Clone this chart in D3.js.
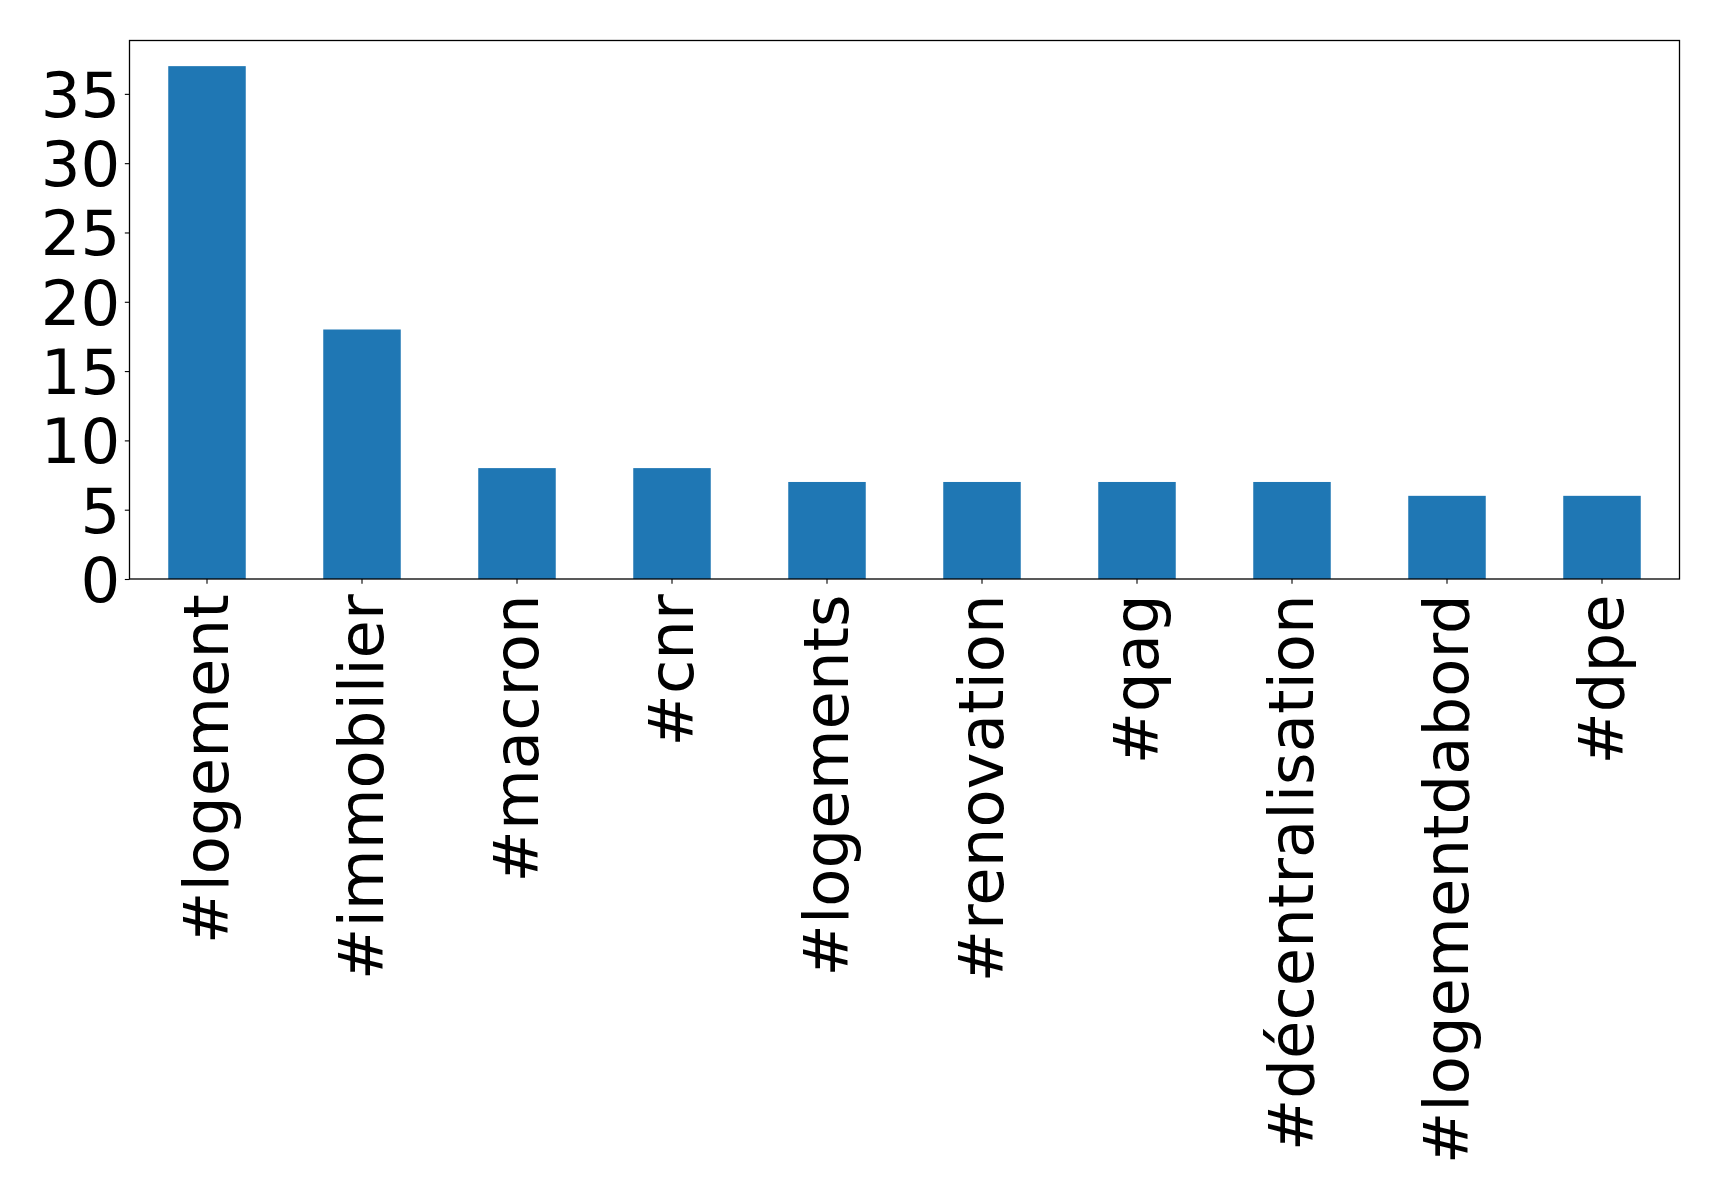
<!DOCTYPE html>
<html><head><meta charset="utf-8">
<script src="https://cdn.jsdelivr.net/npm/d3@7"></script>
<style>body{margin:0;background:#fff}svg{display:block}text{font-family:"DejaVu Sans",sans-serif}</style>
</head><body>
<script>
const categories = ["#logement","#immobilier","#macron","#cnr","#logements","#renovation","#qag","#décentralisation","#logementdabord","#dpe"];
const values = [37,18,8,8,7,7,7,7,6,6];
const yTicks = [0,5,10,15,20,25,30,35];

const W=1719,H=1198;
const m={left:129.5,right:1679.5,top:40.5,bottom:579};
const fs=62.5;
const svg=d3.select("body").append("svg").attr("width",W).attr("height",H);
const x=d3.scaleBand().domain(categories).range([m.left,m.right]).paddingInner(0.5).paddingOuter(0.25);
const y=d3.scaleLinear().domain([0,d3.max(values)*1.05]).range([m.bottom,m.top]);

svg.append("g").selectAll("rect").data(values).join("rect")
  .attr("x",(d,i)=>x(categories[i])).attr("width",x.bandwidth())
  .attr("y",d=>y(d)).attr("height",d=>y(0)-y(d)).attr("fill","#1f77b4");

const ya=svg.append("g").attr("transform",`translate(${m.left},0)`)
  .call(d3.axisLeft(y).tickValues(yTicks).tickSize(4.67).tickPadding(4.67));
ya.select(".domain").remove();
ya.selectAll("text").style("font-size",fs+"px").attr("fill","#000").attr("dy","0.36em");
ya.selectAll("line").attr("stroke","#000").attr("stroke-width",1.1);

const xa=svg.append("g").attr("transform",`translate(0,${m.bottom})`)
  .call(d3.axisBottom(x).tickSize(4.67).tickPadding(4.67));
xa.select(".domain").remove();
xa.selectAll("line").attr("stroke","#000").attr("stroke-width",1.1);
xa.selectAll("text").style("font-size",fs+"px").attr("fill","#000")
  .attr("text-anchor","end").attr("transform","rotate(-90)")
  .attr("x",-(4.67+4.67+6)).attr("y",0).attr("dy","0.33em");

svg.append("rect").attr("x",m.left).attr("y",m.top).attr("width",m.right-m.left).attr("height",m.bottom-m.top)
  .attr("fill","none").attr("stroke","#000").attr("stroke-width",1.3);
</script>
</body></html>
